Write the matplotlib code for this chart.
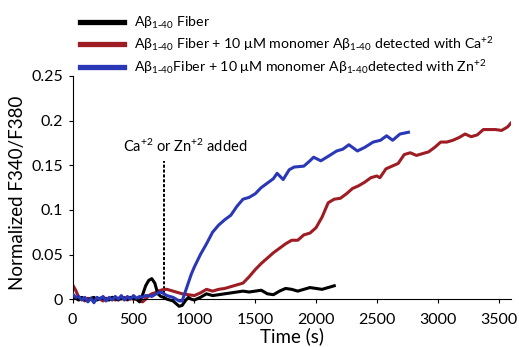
import matplotlib
matplotlib.use('Agg')
import matplotlib.pyplot as plt

plt.rcParams['font.family'] = ['Lato', 'DejaVu Sans']
plt.rcParams['mathtext.default'] = 'regular'

# Data
black_t = [0, 25, 50, 75, 100, 125, 150, 175, 200, 225, 250, 275, 300, 325, 350, 375, 400,
           425, 450, 475, 500, 525, 550, 575, 600, 625, 650, 675, 700, 725, 750, 775, 800,
           825, 850, 875, 900, 925, 950, 975, 1000, 1050, 1100, 1150, 1200, 1250, 1300,
           1400, 1450, 1500, 1550, 1600, 1650, 1700, 1750, 1800, 1850, 1900, 1950, 2000,
           2050, 2100, 2150]
black_y = [0.003, 0.001, -0.001, 0.002, 0.000, -0.002, 0.001, 0.002, -0.001, 0.001, 0.002,
           0.000, -0.001, 0.002, 0.001, -0.001, 0.002, 0.001, 0.000, 0.002, 0.001, 0.000,
           -0.003, 0.005, 0.015, 0.021, 0.023, 0.018, 0.006, 0.003, 0.002, 0.000, -0.001,
           -0.002, -0.005, -0.008, -0.007, -0.002, 0.002, 0.000, -0.001, 0.002, 0.006,
           0.004, 0.005, 0.006, 0.007, 0.009, 0.008, 0.009, 0.010, 0.006, 0.005, 0.009,
           0.012, 0.011, 0.009, 0.011, 0.013, 0.012, 0.011, 0.013, 0.015]

red_t = [0, 25, 50, 75, 100, 125, 150, 175, 200, 225, 250, 275, 300, 325, 350, 375, 400,
         425, 450, 475, 500, 525, 550, 575, 600, 625, 650, 675, 700, 725, 750, 775, 800,
         850, 900, 950, 1000, 1050, 1100, 1150, 1200, 1250, 1300, 1350, 1400, 1450, 1500,
         1550, 1600, 1650, 1700, 1750, 1800, 1850, 1900, 1950, 2000, 2050, 2100, 2150,
         2200, 2250, 2300, 2350, 2400, 2450, 2500, 2525, 2575, 2625, 2675, 2725, 2775,
         2825, 2875, 2925, 2975, 3025, 3075, 3125, 3175, 3225, 3275, 3325, 3375, 3425,
         3475, 3525, 3575, 3600]
red_y = [0.016, 0.010, 0.002, 0.001, -0.002, 0.001, 0.000, -0.002, 0.001, 0.000, -0.002,
         0.001, 0.000, 0.002, -0.001, 0.001, 0.000, 0.002, -0.001, 0.001, 0.000, 0.000,
         -0.002, -0.003, 0.000, 0.004, 0.006, 0.007, 0.009, 0.010, 0.011, 0.011, 0.010,
         0.008, 0.006, 0.005, 0.004, 0.007, 0.011, 0.009, 0.011, 0.012, 0.014, 0.016,
         0.018, 0.025, 0.033, 0.040, 0.046, 0.052, 0.057, 0.062, 0.066, 0.066, 0.072,
         0.074, 0.080, 0.092, 0.108, 0.112, 0.113, 0.118, 0.124, 0.127, 0.131, 0.136,
         0.138, 0.136, 0.146, 0.149, 0.152, 0.162, 0.164, 0.161, 0.163, 0.165, 0.170,
         0.176, 0.176, 0.178, 0.181, 0.185, 0.182, 0.184, 0.190, 0.190, 0.190, 0.189,
         0.193, 0.197]

blue_t = [0, 25, 50, 75, 100, 125, 150, 175, 200, 225, 250, 275, 300, 325, 350, 375, 400,
          425, 450, 475, 500, 525, 550, 575, 600, 625, 650, 675, 700, 725, 750, 775, 800,
          825, 850, 875, 900, 925, 950, 975, 1000, 1050, 1100, 1150, 1200, 1250, 1300,
          1350, 1400, 1450, 1500, 1550, 1600, 1650, 1680, 1730, 1780, 1820, 1900, 1950,
          1980, 2040, 2100, 2170, 2220, 2270, 2340, 2400, 2470, 2530, 2580, 2630, 2690,
          2760]
blue_y = [0.006, 0.002, 0.003, -0.001, 0.002, -0.003, 0.001, -0.004, 0.002, 0.000, 0.003,
          -0.002, 0.002, -0.001, 0.003, 0.000, 0.004, -0.001, 0.003, 0.000, 0.004, 0.001,
          0.003, 0.002, 0.004, 0.004, 0.003, 0.005, 0.007, 0.008, 0.006, 0.004, 0.003,
          0.002, 0.000, -0.002, -0.002, 0.008, 0.018, 0.028, 0.036, 0.050, 0.062, 0.075,
          0.083, 0.089, 0.094, 0.104, 0.112, 0.114, 0.118, 0.125, 0.130, 0.135, 0.141,
          0.134, 0.145, 0.148, 0.149, 0.155, 0.159, 0.155, 0.160, 0.166, 0.168, 0.173,
          0.166, 0.170, 0.176, 0.178, 0.183, 0.178, 0.185, 0.187]

labels = [r'A$\beta_{1\text{-}40}$ Fiber',
          r'A$\beta_{1\text{-}40}$ Fiber + 10 $\mu$M monomer A$\beta_{1\text{-}40}$ detected with Ca$^{+2}$',
          r'A$\beta_{1\text{-}40}$Fiber + 10 $\mu$M monomer A$\beta_{1\text{-}40}$detected with Zn$^{+2}$']
xticks = [0, 500, 1000, 1500, 2000, 2500, 3000, 3500]
yticks = [0, 0.05, 0.1, 0.15, 0.2, 0.25]
ytick_labels = ['0', '0.05', '0.1', '0.15', '0.2', '0.25']
added_t = 750

fig = plt.figure(figsize=(5.19, 3.47), dpi=100)
ax = fig.add_axes([0.140, 0.107, 0.844, 0.674])

l1, = ax.plot(black_t, black_y, color='black', lw=2.2, zorder=3)
l2, = ax.plot(red_t, red_y, color='#9e1c24', lw=2.2, zorder=2)
l3, = ax.plot(blue_t, blue_y, color='#2a38b8', lw=2.2, zorder=4)

ax.plot([added_t, added_t], [0, 0.155], color='black', lw=1.4, ls=(0, (1.6, 0.9)), zorder=1)
ax.text(925, 0.171, 'Ca$^{+2}$ or Zn$^{+2}$ added', ha='center', va='center', fontsize=10.5)

ax.set_xlim(0, 3600)
ax.set_ylim(-0.012, 0.25)
ax.spines['top'].set_visible(False)
ax.spines['right'].set_visible(False)
ax.spines['bottom'].set_position(('data', 0))
ax.spines['left'].set_bounds(0, 0.25)
ax.set_xticks(xticks)
ax.set_yticks(yticks)
ax.set_yticklabels(ytick_labels)
ax.tick_params(labelsize=11.5, length=3, width=0.8, pad=4)
ax.tick_params(axis='x', pad=7)
ax.set_xlabel('Time (s)', fontsize=13.5, labelpad=0)
ax.set_ylabel('Normalized F340/F380', fontsize=13.5, labelpad=4)

fig.legend([l1, l2, l3], labels, loc='upper left', bbox_to_anchor=(0.146, 0.970),
           frameon=False, fontsize=10.2, handlelength=3.1, handletextpad=0.7,
           labelspacing=0.33, borderaxespad=0.0, borderpad=0.3)
for h in fig.legends[0].get_lines():
    h.set_linewidth(3.8)

fig.savefig('out.png', dpi=100)
